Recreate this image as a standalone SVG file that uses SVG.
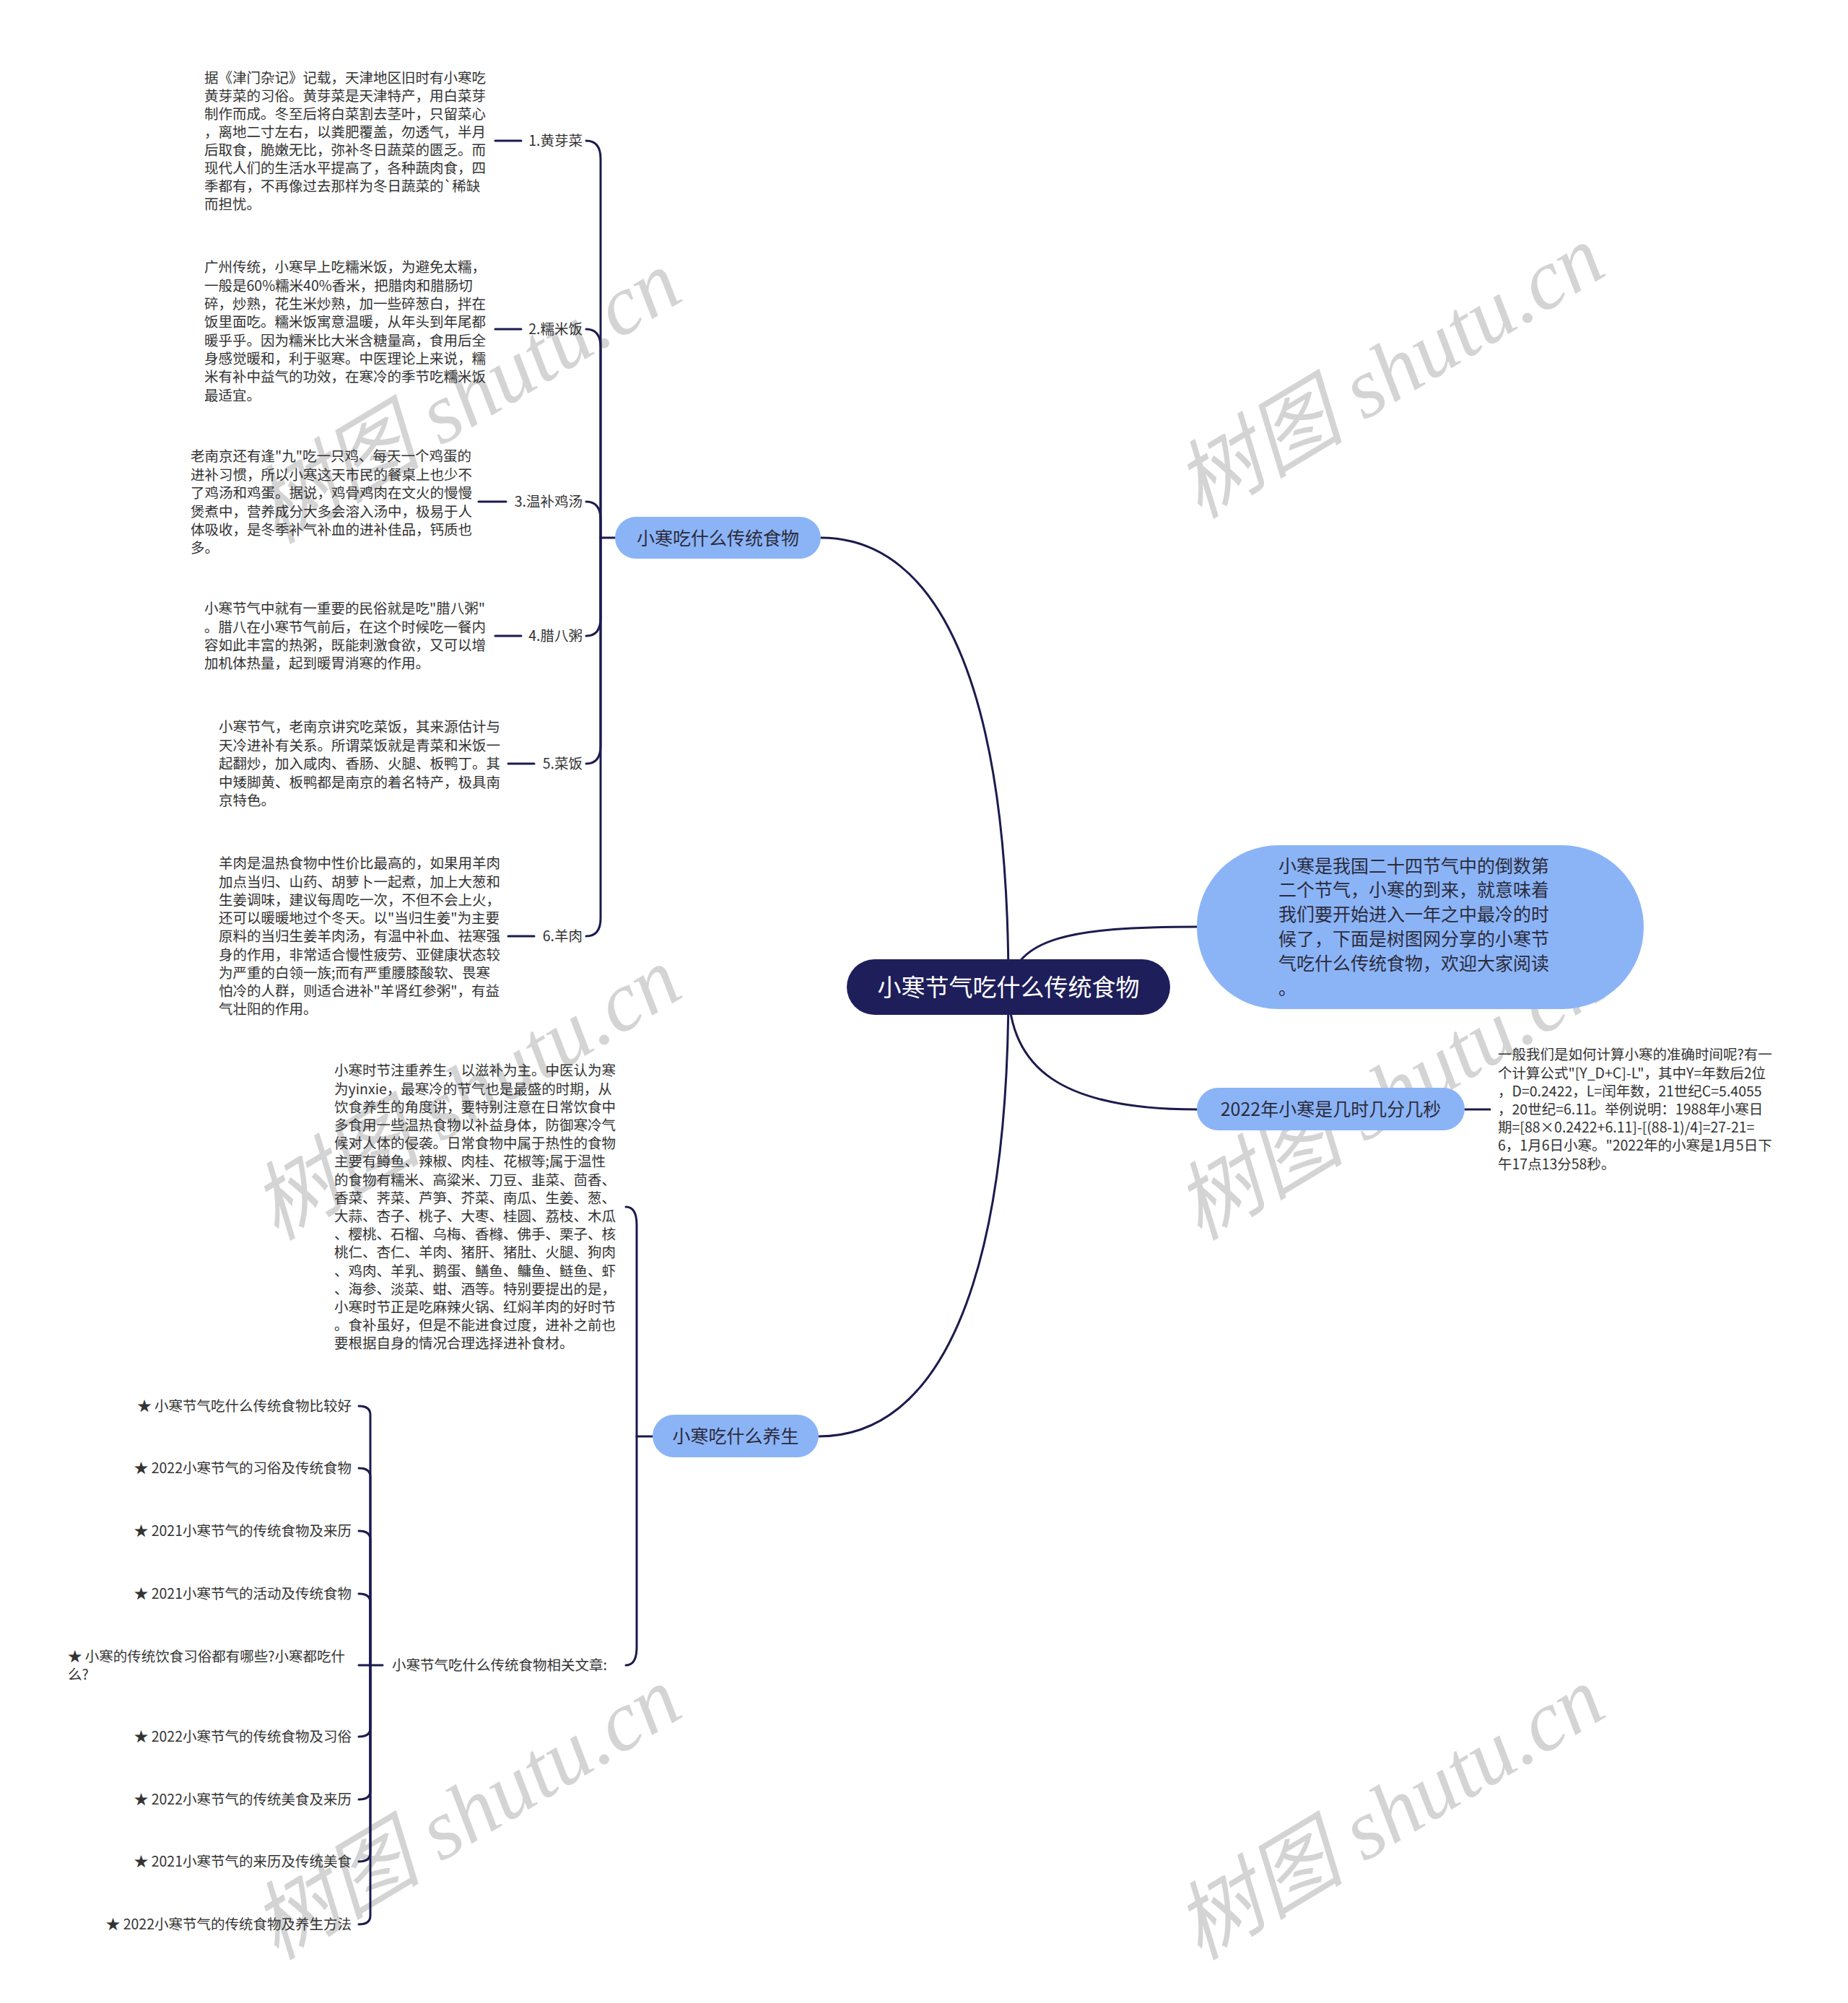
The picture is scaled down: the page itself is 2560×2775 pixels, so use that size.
<svg xmlns="http://www.w3.org/2000/svg" width="2560" height="2775" viewBox="0 0 2560 2775">
<style>
.t{font-family:"Noto Sans CJK SC","Noto Sans",sans-serif;font-size:19.5px;fill:#333}
.b{font-family:"Noto Sans CJK SC","Noto Sans",sans-serif;font-size:25px;fill:#2b2b3b}
.c{font-family:"Noto Sans CJK SC","Noto Sans",sans-serif;font-size:33px;fill:#fff}
.ln{fill:none;stroke:#1b1b4e;stroke-width:3;stroke-linecap:round}
.bx{fill:#8bb4f7}
.wm{font-family:"Liberation Serif","Noto Sans CJK SC",serif;font-style:italic;font-size:118px;fill:#d4d4d4;text-anchor:middle}
</style>
<rect width="2560" height="2775" fill="#fff"/>
<g id="watermarks">
<text class="wm" transform="translate(646,550) rotate(-31)" x="0" y="40">树图 shutu.cn</text>
<text class="wm" transform="translate(1925,515) rotate(-31)" x="0" y="40">树图 shutu.cn</text>
<text class="wm" transform="translate(646,1515) rotate(-31)" x="0" y="40">树图 shutu.cn</text>
<text class="wm" transform="translate(1925,1515) rotate(-31)" x="0" y="40">树图 shutu.cn</text>
<text class="wm" transform="translate(646,2512) rotate(-31)" x="0" y="40">树图 shutu.cn</text>
<text class="wm" transform="translate(1925,2512) rotate(-31)" x="0" y="40">树图 shutu.cn</text>
</g>
<g id="connectors">
<path class="ln" d="M1397 1367 C1397 950 1300 745 1137 745"/>
<path class="ln" d="M1397 1367 C1410 1300 1480 1284 1658 1284"/>
<path class="ln" d="M1397 1367 C1397 1480 1470 1537 1658 1537"/>
<path class="ln" d="M1397 1367 C1397 1780 1300 1990 1134 1990"/>
<path class="ln" d="M2029 1537 H2064"/>
<path class="ln" d="M852 745 H832"/>
<path class="ln" d="M832 745 V220 Q832 195 812 195"/>
<path class="ln" d="M832 745 V481 Q832 456 812 456"/>
<path class="ln" d="M832 745 V720 Q832 695 812 695"/>
<path class="ln" d="M832 745 V856 Q832 881 812 881"/>
<path class="ln" d="M832 745 V1033 Q832 1058 812 1058"/>
<path class="ln" d="M832 745 V1272 Q832 1297 812 1297"/>
<path class="ln" d="M686 195 H722"/>
<path class="ln" d="M686 456 H722"/>
<path class="ln" d="M663 695 H701"/>
<path class="ln" d="M686 881 H722"/>
<path class="ln" d="M704 1058 H740"/>
<path class="ln" d="M704 1297 H740"/>
<path class="ln" d="M904 1990 H882"/>
<path class="ln" d="M882 1990 V1697 Q882 1672 867 1672"/>
<path class="ln" d="M882 1990 V2282 Q882 2307 867 2307"/>
<path class="ln" d="M530 2307 H497"/>
<path class="ln" d="M513 2307 V1960 Q513 1948 497 1948"/>
<path class="ln" d="M513 2307 V2046 Q513 2034 497 2034"/>
<path class="ln" d="M513 2307 V2133 Q513 2121 497 2121"/>
<path class="ln" d="M513 2307 V2220 Q513 2208 497 2208"/>
<path class="ln" d="M513 2307 V2394 Q513 2406 497 2406"/>
<path class="ln" d="M513 2307 V2481 Q513 2493 497 2493"/>
<path class="ln" d="M513 2307 V2567 Q513 2579 497 2579"/>
<path class="ln" d="M513 2307 V2654 Q513 2666 497 2666"/>
</g>
<g id="center">
<rect x="1173" y="1329" width="448" height="77" rx="38.5" fill="#1e1e5a"/>
<text class="c" x="1397" y="1380" text-anchor="middle">小寒节气吃什么传统食物</text>
</g>
<g id="branch-food">
<rect class="bx" x="852" y="716" width="285" height="58" rx="29"/>
<text class="b" x="994.5" y="754.5" text-anchor="middle">小寒吃什么传统食物</text>
</g>
<g id="branch-intro">
<rect class="bx" x="1658" y="1171" width="619" height="227" rx="113"/>
<text class="b" x="1771" y="1208.5"><tspan x="1771">小寒是我国二十四节气中的倒数第</tspan><tspan x="1771" dy="33.8">二个节气，小寒的到来，就意味着</tspan><tspan x="1771" dy="33.8">我们要开始进入一年之中最冷的时</tspan><tspan x="1771" dy="33.8">候了，下面是树图网分享的小寒节</tspan><tspan x="1771" dy="33.8">气吃什么传统食物，欢迎大家阅读</tspan><tspan x="1771" dy="33.8">。</tspan></text>
</g>
<g id="branch-time">
<rect class="bx" x="1658" y="1507" width="371" height="59" rx="29.5"/>
<text class="b" x="1843.5" y="1546" text-anchor="middle">2022年小寒是几时几分几秒</text>
</g>
<g id="time-note">
<text class="t" x="2075" y="1468.4"><tspan x="2075">一般我们是如何计算小寒的准确时间呢?有一</tspan><tspan x="2075" dy="25.2">个计算公式"[Y_D+C]-L"，其中Y=年数后2位</tspan><tspan x="2075" dy="25.2">，D=0.2422，L=闰年数，21世纪C=5.4055</tspan><tspan x="2075" dy="25.2">，20世纪=6.11。举例说明：1988年小寒日</tspan><tspan x="2075" dy="25.2">期=[88×0.2422+6.11]-[(88-1)/4]=27-21=</tspan><tspan x="2075" dy="25.2">6，1月6日小寒。"2022年的小寒是1月5日下</tspan><tspan x="2075" dy="25.2">午17点13分58秒。</tspan></text>
</g>
<g id="food-1">
<text class="t" x="807" y="202.4" text-anchor="end">1.黄芽菜</text>
<text class="t" x="283" y="115.4"><tspan x="283">据《津门杂记》记载，天津地区旧时有小寒吃</tspan><tspan x="283" dy="25">黄芽菜的习俗。黄芽菜是天津特产，用白菜芽</tspan><tspan x="283" dy="25">制作而成。冬至后将白菜割去茎叶，只留菜心</tspan><tspan x="283" dy="25">，离地二寸左右，以粪肥覆盖，勿透气，半月</tspan><tspan x="283" dy="25">后取食，脆嫩无比，弥补冬日蔬菜的匮乏。而</tspan><tspan x="283" dy="25">现代人们的生活水平提高了，各种蔬肉食，四</tspan><tspan x="283" dy="25">季都有，不再像过去那样为冬日蔬菜的`稀缺</tspan><tspan x="283" dy="25">而担忧。</tspan></text>
</g>
<g id="food-2">
<text class="t" x="807" y="463.4" text-anchor="end">2.糯米饭</text>
<text class="t" x="283" y="377.4"><tspan x="283">广州传统，小寒早上吃糯米饭，为避免太糯，</tspan><tspan x="283" dy="25.3">一般是60%糯米40%香米，把腊肉和腊肠切</tspan><tspan x="283" dy="25.3">碎，炒熟，花生米炒熟，加一些碎葱白，拌在</tspan><tspan x="283" dy="25.3">饭里面吃。糯米饭寓意温暖，从年头到年尾都</tspan><tspan x="283" dy="25.3">暖乎乎。因为糯米比大米含糖量高，食用后全</tspan><tspan x="283" dy="25.3">身感觉暖和，利于驱寒。中医理论上来说，糯</tspan><tspan x="283" dy="25.3">米有补中益气的功效，在寒冷的季节吃糯米饭</tspan><tspan x="283" dy="25.3">最适宜。</tspan></text>
</g>
<g id="food-3">
<text class="t" x="807" y="702.4" text-anchor="end">3.温补鸡汤</text>
<text class="t" x="264" y="639.4"><tspan x="264">老南京还有逢"九"吃一只鸡、每天一个鸡蛋的</tspan><tspan x="264" dy="25.4">进补习惯，所以小寒这天市民的餐桌上也少不</tspan><tspan x="264" dy="25.4">了鸡汤和鸡蛋。据说，鸡骨鸡肉在文火的慢慢</tspan><tspan x="264" dy="25.4">煲煮中，营养成分大多会溶入汤中，极易于人</tspan><tspan x="264" dy="25.4">体吸收，是冬季补气补血的进补佳品，钙质也</tspan><tspan x="264" dy="25.4">多。</tspan></text>
</g>
<g id="food-4">
<text class="t" x="807" y="888.4" text-anchor="end">4.腊八粥</text>
<text class="t" x="283" y="850.4"><tspan x="283">小寒节气中就有一重要的民俗就是吃"腊八粥"</tspan><tspan x="283" dy="25.3">。腊八在小寒节气前后，在这个时候吃一餐内</tspan><tspan x="283" dy="25.3">容如此丰富的热粥，既能刺激食欲，又可以增</tspan><tspan x="283" dy="25.3">加机体热量，起到暖胃消寒的作用。</tspan></text>
</g>
<g id="food-5">
<text class="t" x="807" y="1065.4" text-anchor="end">5.菜饭</text>
<text class="t" x="303" y="1014.4"><tspan x="303">小寒节气，老南京讲究吃菜饭，其来源估计与</tspan><tspan x="303" dy="25.4">天冷进补有关系。所谓菜饭就是青菜和米饭一</tspan><tspan x="303" dy="25.4">起翻炒，加入咸肉、香肠、火腿、板鸭丁。其</tspan><tspan x="303" dy="25.4">中矮脚黄、板鸭都是南京的着名特产，极具南</tspan><tspan x="303" dy="25.4">京特色。</tspan></text>
</g>
<g id="food-6">
<text class="t" x="807" y="1304.4" text-anchor="end">6.羊肉</text>
<text class="t" x="303" y="1203.4"><tspan x="303">羊肉是温热食物中性价比最高的，如果用羊肉</tspan><tspan x="303" dy="25.25">加点当归、山药、胡萝卜一起煮，加上大葱和</tspan><tspan x="303" dy="25.25">生姜调味，建议每周吃一次，不但不会上火，</tspan><tspan x="303" dy="25.25">还可以暖暖地过个冬天。以"当归生姜"为主要</tspan><tspan x="303" dy="25.25">原料的当归生姜羊肉汤，有温中补血、祛寒强</tspan><tspan x="303" dy="25.25">身的作用，非常适合慢性疲劳、亚健康状态较</tspan><tspan x="303" dy="25.25">为严重的白领一族;而有严重腰膝酸软、畏寒</tspan><tspan x="303" dy="25.25">怕冷的人群，则适合进补"羊肾红参粥"，有益</tspan><tspan x="303" dy="25.25">气壮阳的作用。</tspan></text>
</g>
<g id="branch-health">
<rect class="bx" x="904" y="1960" width="230" height="59" rx="29.5"/>
<text class="b" x="1019" y="1999" text-anchor="middle">小寒吃什么养生</text>
</g>
<g id="health-note">
<text class="t" x="463" y="1490.4"><tspan x="463">小寒时节注重养生，以滋补为主。中医认为寒</tspan><tspan x="463" dy="25.2">为yinxie，最寒冷的节气也是最盛的时期，从</tspan><tspan x="463" dy="25.2">饮食养生的角度讲，要特别注意在日常饮食中</tspan><tspan x="463" dy="25.2">多食用一些温热食物以补益身体，防御寒冷气</tspan><tspan x="463" dy="25.2">候对人体的侵袭。日常食物中属于热性的食物</tspan><tspan x="463" dy="25.2">主要有鳟鱼、辣椒、肉桂、花椒等;属于温性</tspan><tspan x="463" dy="25.2">的食物有糯米、高粱米、刀豆、韭菜、茴香、</tspan><tspan x="463" dy="25.2">香菜、荠菜、芦笋、芥菜、南瓜、生姜、葱、</tspan><tspan x="463" dy="25.2">大蒜、杏子、桃子、大枣、桂圆、荔枝、木瓜</tspan><tspan x="463" dy="25.2">、樱桃、石榴、乌梅、香橼、佛手、栗子、核</tspan><tspan x="463" dy="25.2">桃仁、杏仁、羊肉、猪肝、猪肚、火腿、狗肉</tspan><tspan x="463" dy="25.2">、鸡肉、羊乳、鹅蛋、鳝鱼、鳙鱼、鲢鱼、虾</tspan><tspan x="463" dy="25.2">、海参、淡菜、蚶、酒等。特别要提出的是，</tspan><tspan x="463" dy="25.2">小寒时节正是吃麻辣火锅、红焖羊肉的好时节</tspan><tspan x="463" dy="25.2">。食补虽好，但是不能进食过度，进补之前也</tspan><tspan x="463" dy="25.2">要根据自身的情况合理选择进补食材。</tspan></text>
</g>
<g id="related">
<text class="t" x="543" y="2314.4">小寒节气吃什么传统食物相关文章:</text>
</g>
<g id="related-items">
<text class="t" x="487" y="1955.4" text-anchor="end">★ 小寒节气吃什么传统食物比较好</text>
<text class="t" x="487" y="2041.4" text-anchor="end">★ 2022小寒节气的习俗及传统食物</text>
<text class="t" x="487" y="2128.4" text-anchor="end">★ 2021小寒节气的传统食物及来历</text>
<text class="t" x="487" y="2215.4" text-anchor="end">★ 2021小寒节气的活动及传统食物</text>
<text class="t" x="94" y="2302.4"><tspan x="94">★ 小寒的传统饮食习俗都有哪些?小寒都吃什</tspan><tspan x="94" dy="24.5">么?</tspan></text>
<text class="t" x="487" y="2413.4" text-anchor="end">★ 2022小寒节气的传统食物及习俗</text>
<text class="t" x="487" y="2500.4" text-anchor="end">★ 2022小寒节气的传统美食及来历</text>
<text class="t" x="487" y="2586.4" text-anchor="end">★ 2021小寒节气的来历及传统美食</text>
<text class="t" x="487" y="2673.4" text-anchor="end">★ 2022小寒节气的传统食物及养生方法</text>
</g>
</svg>
